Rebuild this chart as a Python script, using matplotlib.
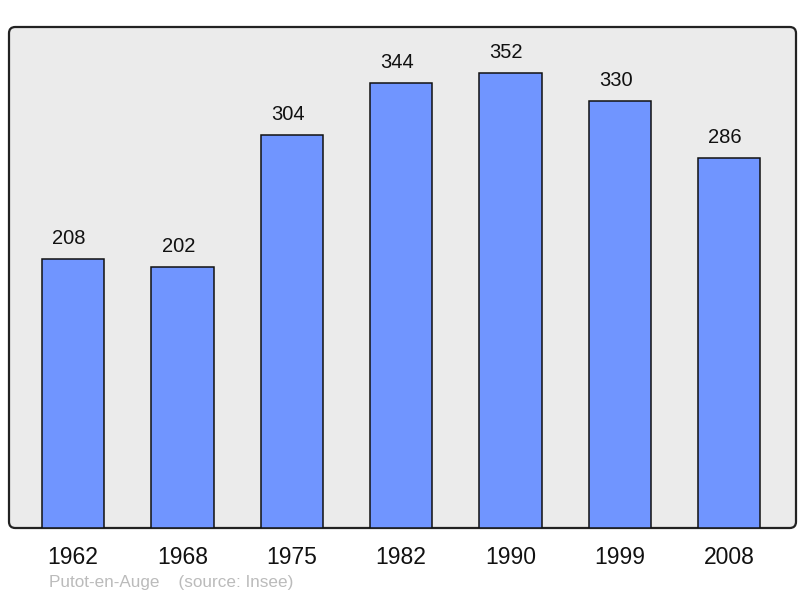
import matplotlib
matplotlib.use("Agg")
import matplotlib.pyplot as plt
from matplotlib.patches import FancyBboxPatch

years = ["1962", "1968", "1975", "1982", "1990", "1999", "2008"]
population = [208, 202, 304, 344, 352, 330, 286]
source_text = "Putot-en-Auge    (source: Insee)"

plt.rcParams['font.family'] = ['Liberation Sans', 'DejaVu Sans']

fig = plt.figure(figsize=(8, 5.98), dpi=100)
ax = fig.add_axes([9/800, 1-528/598, 787/800, (528-27)/598])
ax.patch.set_visible(False)
for s in ax.spines.values():
    s.set_visible(False)

frame = FancyBboxPatch((0, 0), 1, 1, boxstyle="round,pad=0,rounding_size=0.008",
                       transform=ax.transAxes, facecolor="#ebebeb", edgecolor="#222222",
                       linewidth=1.6, zorder=0, clip_on=False, mutation_aspect=787/501)
ax.add_patch(frame)

x = list(range(len(years)))
bars = ax.bar(x, population, width=0.57, color="#7095ff", edgecolor="#111111",
              linewidth=1.1, zorder=2)
for xi, v in zip(x, population):
    ax.annotate(str(v), (xi, v), xytext=(-3, 8), textcoords="offset points",
                ha="center", va="bottom", fontsize=14.5, color="#111111")

ax.set_xlim(-0.585, 6.61)
ax.set_ylim(0, 387.6)
ax.set_yticks([])
ax.set_xticks(x)
ax.set_xticklabels(years, fontsize=16.5, color="#111111")
ax.tick_params(axis='x', length=0, pad=13)

fig.text(49/800, 1-583/598, source_text, fontsize=12.3, color="#bbbbbb", va="center", ha="left")

fig.savefig("out.png", dpi=100)
